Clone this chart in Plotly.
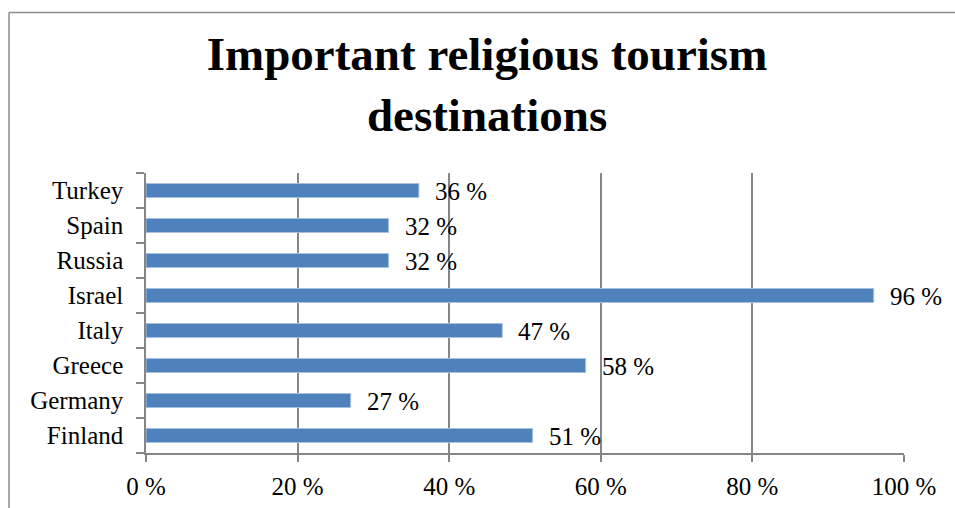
import plotly.graph_objects as go

# Share of respondents naming each country as an important religious tourism destination
countries = ["Finland", "Germany", "Greece", "Italy", "Israel", "Russia", "Spain", "Turkey"]
shares = [51, 27, 58, 47, 96, 32, 32, 36]
x_ticks = [0, 20, 40, 60, 80, 100]
x_tick_labels = ["0 %", "20 %", "40 %", "60 %", "80 %", "100 %"]

FONT = "Liberation Serif"
BAR = "#4F81BD"
GRID = "#868686"

fig = go.Figure()
fig.add_trace(go.Bar(
    y=countries,
    x=shares,
    orientation="h",
    width=0.4,
    marker=dict(color=BAR, line=dict(color="#A7C0DE", width=1)),
    hoverinfo="x+y",
))

# value labels just past each bar end
for c, v in zip(countries, shares):
    fig.add_annotation(
        x=v, y=c, xref="x", yref="y",
        text=f"{v} %", showarrow=False,
        xanchor="left", yanchor="middle", xshift=14, yshift=-1,
        font=dict(family=FONT, size=25, color="#000000"),
    )

fig.update_layout(
    width=955, height=508,
    margin=dict(l=146, r=51, t=173, b=55, autoexpand=False),
    paper_bgcolor="white",
    plot_bgcolor="white",
    showlegend=False,
    title=dict(
        text="<b>Important religious tourism<br>destinations</b>",
        x=0.51, xanchor="center",
        y=0.862, yanchor="bottom",
        font=dict(family=FONT, size=47, color="#000000"),
    ),
    xaxis=dict(
        range=[0, 100],
        tickvals=x_ticks, ticktext=x_tick_labels,
        showgrid=True, gridcolor=GRID, gridwidth=1.5,
        zeroline=False,
        showline=True, linecolor=GRID, linewidth=1.5,
        ticks="outside", ticklen=7, tickcolor=GRID, tickwidth=1.5,
        ticklabelstandoff=3,
        automargin=False,
        tickfont=dict(family=FONT, size=25, color="#000000"),
        fixedrange=True,
    ),
    yaxis=dict(
        type="category",
        categoryorder="array", categoryarray=countries,
        range=[-0.5, len(countries) - 0.5],
        showgrid=False, zeroline=False,
        showline=True, linecolor=GRID, linewidth=1.5,
        ticks="outside", tickson="boundaries", ticklen=8,
        tickcolor=GRID, tickwidth=1.5,
        ticklabelstandoff=16,
        automargin=False,
        tickfont=dict(family=FONT, size=25, color="#000000"),
        fixedrange=True,
    ),
)

# chart frame: top and left edges
frame_top = (508 - 12.5 - 55) / 280
fig.add_shape(type="line", xref="paper", yref="paper",
              x0=-137 / 758, x1=1.2, y0=frame_top, y1=frame_top,
              line=dict(color="#8C8C8C", width=1.5))
fig.add_shape(type="line", xref="paper", yref="paper",
              x0=-137 / 758, x1=-137 / 758, y0=-0.3, y1=frame_top,
              line=dict(color="#8C8C8C", width=1.5))

fig.write_html("out.html", config={"displayModeBar": False})
